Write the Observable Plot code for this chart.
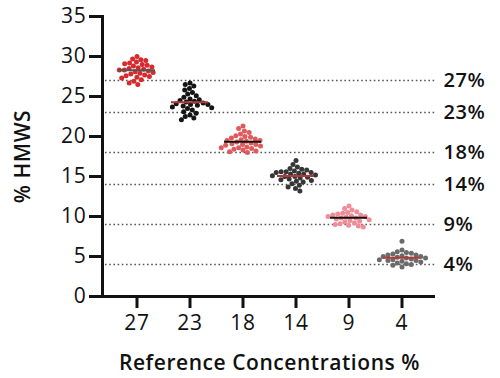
<!DOCTYPE html>
<html>
<head>
<meta charset="utf-8">
<script src="https://cdn.jsdelivr.net/npm/d3@7"></script>
<script src="https://cdn.jsdelivr.net/npm/@observablehq/plot@0.6"></script>
<style>
  body { margin: 0; background: #fff; }
  #chart { position: relative; width: 500px; height: 378px; }
  #chart svg { position: absolute; left: 0; top: 0; overflow: visible; }
  #chart g[aria-label="y-axis tick"] path,
  #chart g[aria-label="fx-axis tick"] path { stroke-width: 3; }
  #chart g[aria-label="y-axis tick label"],
  #chart g[aria-label="fx-axis tick label"] { font-weight: 500; letter-spacing: 0.8px; }
  #chart g[aria-label="y-axis label"],
  #chart g[aria-label="fx-axis label"] { font-weight: 600; letter-spacing: 0.55px; }
  #chart g[aria-label="text"] { letter-spacing: 0.6px; }
</style>
</head>
<body>
<div id="chart"></div>
<script>
const groups = ["27", "23", "18", "14", "9", "4"];
const dotColors = ["#d62b2d", "#141414", "#e05a5c", "#363636", "#ef8c98", "#6b6b6b"];
const meanColors = ["#555555", "#b03a3a", "#111111", "#b03a3a", "#111111", "#b03a3a"];
const refLevels = [27, 23, 18, 14, 9, 4];
const yTicks = [0, 5, 10, 15, 20, 25, 30, 35];

const v27 = [30.0, 29.7, 29.6, 29.5, 29.3, 29.2, 29.1, 29.0, 28.9, 28.8, 28.7, 28.6, 28.5, 28.4, 28.3, 28.3, 28.2, 28.1, 28.0, 27.9, 27.8, 27.7, 27.6, 27.5, 27.4, 27.3, 27.1, 26.9, 26.7, 26.5];
const v23 = [26.7, 26.5, 26.3, 26.0, 25.8, 25.5, 25.3, 25.1, 24.9, 24.7, 24.6, 24.5, 24.4, 24.3, 24.2, 24.1, 24.0, 24.0, 23.9, 23.8, 23.7, 23.6, 23.5, 23.3, 23.1, 22.9, 22.7, 22.5, 22.3, 22.1];
const v18 = [21.3, 21.0, 20.7, 20.5, 20.3, 20.1, 20.0, 19.9, 19.8, 19.7, 19.6, 19.5, 19.5, 19.4, 19.3, 19.2, 19.1, 19.0, 19.0, 18.9, 18.8, 18.7, 18.6, 18.6, 18.5, 18.4, 18.3, 18.2, 18.1, 18.0];
const v14 = [17.0, 16.5, 16.2, 16.0, 15.9, 15.8, 15.7, 15.6, 15.6, 15.5, 15.5, 15.4, 15.3, 15.3, 15.2, 15.1, 15.0, 15.0, 14.9, 14.8, 14.7, 14.6, 14.5, 14.4, 14.3, 14.1, 13.9, 13.7, 13.5, 13.2];
const v9 = [11.3, 11.0, 10.8, 10.6, 10.5, 10.4, 10.3, 10.2, 10.2, 10.1, 10.0, 10.0, 9.9, 9.8, 9.8, 9.7, 9.6, 9.5, 9.4, 9.3, 9.2, 9.1, 9.0, 8.9, 8.8, 8.7];
const v4 = [6.9, 5.8, 5.6, 5.5, 5.4, 5.3, 5.2, 5.2, 5.1, 5.0, 5.0, 4.9, 4.8, 4.8, 4.7, 4.6, 4.6, 4.5, 4.5, 4.4, 4.3, 4.2, 4.1, 4.0, 3.9, 3.7];

const series = [v27, v23, v18, v14, v9, v4];
const rows = series.flatMap((vals, i) => vals.map(v => ({g: groups[i], v})));
const means = groups.map((g, i) => ({g, m: d3.mean(series[i]), c: meanColors[i]}));

const font = "'Open Sans', sans-serif";
const common = {
  width: 500,
  height: 378,
  marginTop: 16,
  marginLeft: 102,
  marginRight: 65,
  marginBottom: 82,
  style: {fontFamily: font, fontSize: "21px", color: "#111", background: "transparent"}
};

// Background layer: y axis, reference lines, right-hand labels, baseline
const back = Plot.plot({
  ...common,
  style: {...common.style, background: "#fff"},
  y: {
    domain: [0, 35],
    ticks: yTicks,
    tickSize: 13,
    tickPadding: 3,
    label: "% HMWS",
    labelAnchor: "center",
    labelArrow: "none",
    labelOffset: 87
  },
  marks: [
    Plot.ruleY(refLevels, {stroke: "#555", strokeWidth: 1.6, strokeDasharray: "1.6,2.6", insetLeft: 3}),
    Plot.text(refLevels, {y: d => d, text: d => d + "%", frameAnchor: "right", dx: 8, textAnchor: "start", fontSize: 20, fontWeight: 600, fill: "#111"}),
    Plot.ruleY([0], {stroke: "#111", strokeWidth: 3}),
    Plot.frame({anchor: "left", stroke: "#111", strokeWidth: 3})
  ]
});

// Foreground layer: beeswarm per concentration, mean lines, category axis
const fgMarks = [
  Plot.dot(rows, Plot.dodgeX({anchor: "middle", padding: 0}, {fx: "g", y: "v", r: 2.5, fill: "g"}))
];
means.forEach(d => {
  fgMarks.push(Plot.tickY([d], {fx: "g", y: "m", stroke: d.c, strokeWidth: 2, insetLeft: 8, insetRight: 8}));
});
const front = Plot.plot({
  ...common,
  fx: {
    domain: groups,
    paddingInner: 0,
    paddingOuter: 0.14,
    label: "Reference Concentrations %",
    tickSize: 12,
    tickPadding: 7,
    labelOffset: 73,
    labelAnchor: "center"
  },
  y: {domain: [0, 35], axis: null},
  color: {domain: groups, range: dotColors},
  marks: fgMarks
});

const el = document.getElementById("chart");
el.append(back);
el.append(front);
</script>
</body>
</html>
